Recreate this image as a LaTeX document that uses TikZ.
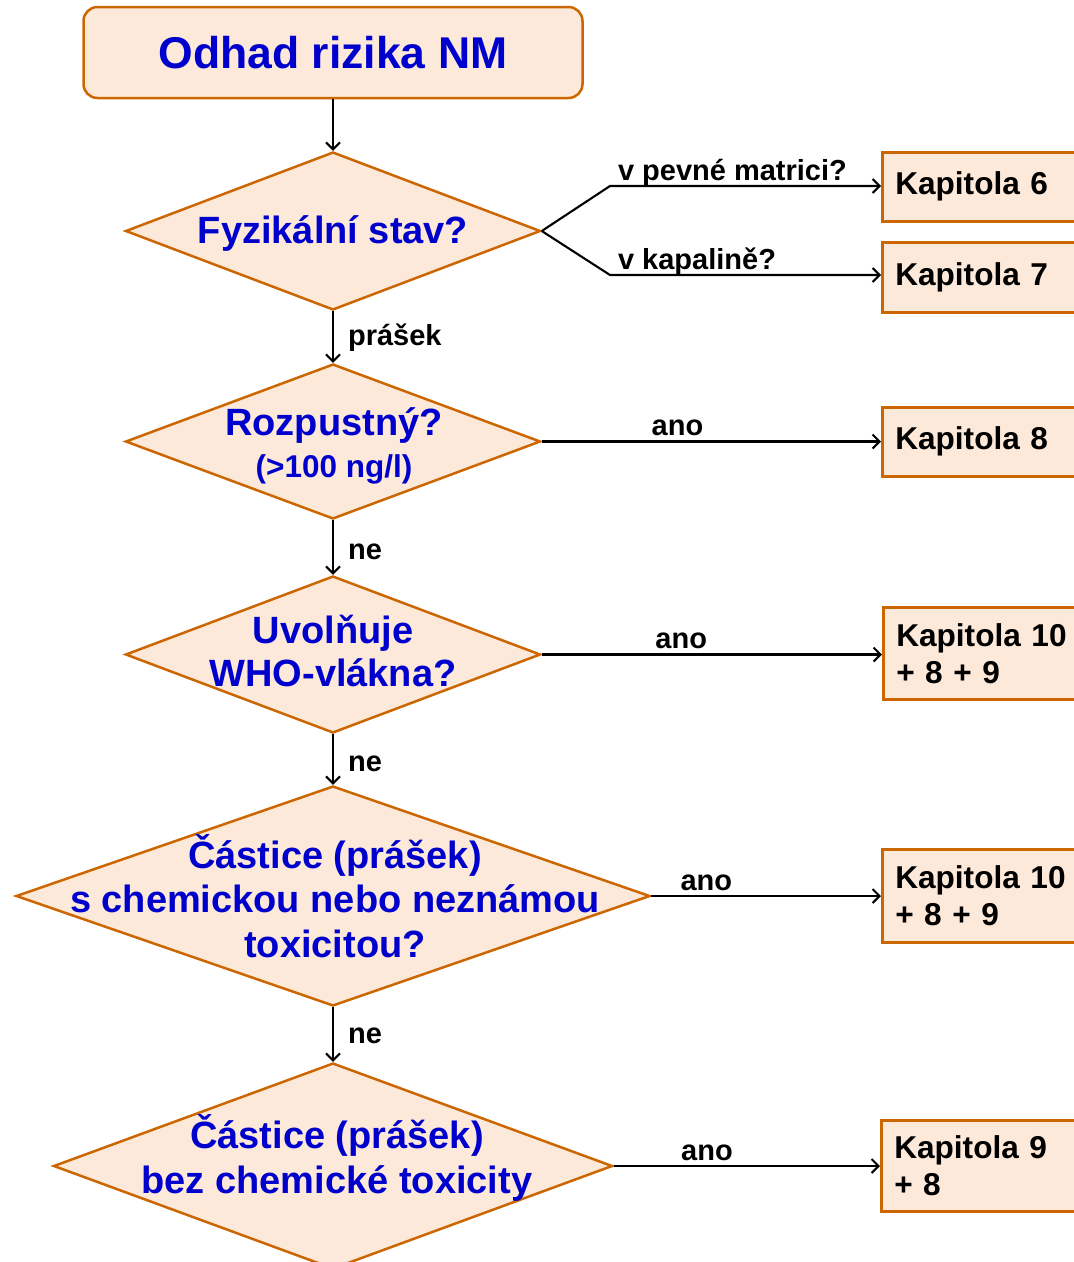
\documentclass[tikz,border=0pt]{standalone}
\usepackage{fontspec}
\setmainfont{Liberation Sans}
\usetikzlibrary{shapes.geometric,arrows.meta}
\definecolor{peach}{HTML}{FDE9D9}
\definecolor{bord}{HTML}{CC6600}
\definecolor{dblue}{HTML}{0000CC}
\begin{document}
\begin{tikzpicture}[x=1pt,y=-1pt,
 dia/.style={diamond, draw=bord, fill=peach, line width=2.5pt, inner sep=0pt},
 dtext/.style={text=dblue, font=\bfseries\fontsize{38}{44}\selectfont, align=center, inner sep=0pt},
 kbox/.style={rectangle, draw=bord, fill=peach, line width=2.5pt, anchor=north west, text width=200pt, align=left, inner xsep=13pt, font=\bfseries\fontsize{31.6}{37}\selectfont},
 conn/.style={line width=2.1pt, -{Straight Barb[length=7pt,width=14pt]}},
 lab/.style={font=\bfseries\fontsize{29}{34}\selectfont, inner sep=0pt}
]
\useasboundingbox (0,0) rectangle (1074,1262);
\clip (0,0) rectangle (1074,1262);

% title
\node[draw=bord, fill=peach, rounded corners=14pt, line width=2.5pt, minimum width=499pt, minimum height=91pt, text=dblue, font=\bfseries\fontsize{44.5}{50}\selectfont] (top) at (333,52.5) {Odhad rizika NM};

% diamonds
\node[dia, minimum width=415pt, minimum height=158pt] (d1) at (333,231) {};
\node[dtext] (t1) at (333,234) {Fyzikální stav?};

\node[dia, minimum width=415pt, minimum height=155pt] (d2) at (333,441.5) {};
\node[dtext] (t2) at (334,446) {Rozpustný?\\[-2pt]{\fontsize{31.5}{36}\selectfont (>100 ng/l)}};

\node[dia, minimum width=415pt, minimum height=157pt] (d3) at (333,654.5) {};
\node[dtext] (t3) at (333,651) {Uvolňuje\\[-1pt]WHO-vlákna?};

\node[dia, minimum width=634pt, minimum height=220pt] (d4) at (333,896) {};
\node[dtext, font=\bfseries\fontsize{38}{44.5}\selectfont] (t4) at (335,896) {Částice (prášek)\\s chemickou nebo neznámou\\toxicitou?};

\node[dia, minimum width=559pt, minimum height=206pt] (d5) at (333,1166) {};
\node[dtext, font=\bfseries\fontsize{38}{45}\selectfont] (t5) at (337,1158) {Částice (prášek)\\bez chemické toxicity};

% boxes
\node[kbox, minimum height=69pt] (k6) at (881,151) {Kapitola 6};
\node[kbox, minimum height=70pt] (k7) at (881,241) {Kapitola 7};
\node[kbox, minimum height=69pt] (k8) at (881,406) {Kapitola 8};
\node[kbox, minimum height=92pt] (k10a) at (882,606) {Kapitola 10\\+ 8 + 9};
\node[kbox, minimum height=93pt] (k10b) at (881,848) {Kapitola 10\\+ 8 + 9};
\node[kbox, minimum height=91pt] (k9) at (880,1119) {Kapitola 9\\+ 8};

% vertical connectors
\draw[conn] (top.south) -- (d1.north);
\draw[conn] (d1.south) -- node[lab, pos=0.52, anchor=west, xshift=14pt] (l1) {prášek} (d2.north);
\draw[conn] (d2.south) -- node[lab, pos=0.58, anchor=west, xshift=14pt] (l2) {ne} (d3.north);
\draw[conn] (d3.south) -- node[lab, pos=0.58, anchor=west, xshift=14pt] (l3) {ne} (d4.north);
\draw[conn] (d4.south) -- node[lab, pos=0.52, anchor=west, xshift=14pt] (l4) {ne} (d5.north);

% branches
\coordinate (b1) at (610,186);
\coordinate (b2) at (610,275);
\draw[conn] (d1.east) -- (b1) -- node[lab, pos=0, anchor=base west, xshift=7pt, yshift=6pt] (l5) {v pevné matrici?} (b1 -| k6.west);
\draw[conn] (d1.east) -- (b2) -- node[lab, pos=0, anchor=base west, xshift=7pt, yshift=6pt] (l6) {v kapalině?} (b2 -| k7.west);

% horizontal connectors
\draw[conn] (d2.east) -- node[lab, pos=0.40, anchor=base, yshift=6pt] (l7) {ano} (d2.east -| k8.west);
\draw[conn] (d3.east) -- node[lab, pos=0.41, anchor=base, yshift=6pt] (l8) {ano} (d3.east -| k10a.west);
\draw[conn] (d4.east) -- node[lab, pos=0.24, anchor=base, yshift=6pt] (l9) {ano} (d4.east -| k10b.west);
\draw[conn] (d5.east) -- node[lab, pos=0.35, anchor=base, yshift=6pt] (l10) {ano} (d5.east -| k9.west);
\end{tikzpicture}
\end{document}
